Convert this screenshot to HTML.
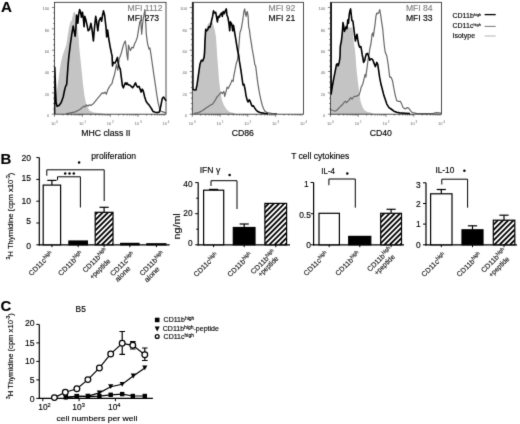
<!DOCTYPE html>
<html><head><meta charset="utf-8"><style>
html,body{margin:0;padding:0;background:#fff;}
body{width:520px;height:424px;overflow:hidden;font-family:"Liberation Sans",sans-serif;}
svg{display:block;}
</style></head><body>
<svg width="520" height="424" viewBox="0 0 520 424">
<defs><filter id="soft" x="0" y="0" width="520" height="424" filterUnits="userSpaceOnUse" color-interpolation-filters="sRGB"><feConvolveMatrix order="3" kernelMatrix="0.0114 0.084 0.0114 0.084 0.618 0.084 0.0114 0.084 0.0114" divisor="1" edgeMode="duplicate" preserveAlpha="true"/></filter></defs>
<g filter="url(#soft)">
<rect width="520" height="424" fill="#fff"/>
<text x="0.9" y="11.8" font-size="15.2" font-weight="bold" font-family="Liberation Sans, sans-serif" stroke="#000" stroke-width="0.14">A</text>
<path d="M55.5,114.0 L56.1,102.7 L56.8,91.4 L58.2,81.5 L59.7,70.1 L61.1,61.7 L62.5,56.0 L64.5,50.0 L66.3,45.1 L67.7,35.6 L69.0,27.4 L70.4,21.9 L71.8,20.5 L73.2,13.5 L74.5,11.5 L75.5,14.0 L76.5,20.0 L77.3,27.4 L78.6,38.3 L79.3,47.9 L80.1,56.0 L81.6,70.1 L83.0,84.3 L84.4,95.6 L86.5,105.5 L89.4,110.5 L93.6,112.6 L100.7,113.3 L105.0,114.0 L105.0,114.2 L55.5,114.2 Z" fill="#c4c4c4" stroke="none"/>
<path d="M66.0,113.6 L68.1,113.3 L75.2,111.9 L79.5,109.7 L82.3,107.6 L83.7,106.2 L85.1,106.9 L86.5,104.8 L87.9,106.2 L89.4,104.8 L90.8,105.5 L93.6,103.4 L96.4,99.8 L99.3,96.3 L102.1,92.8 L103.5,93.5 L104.9,92.1 L106.3,94.2 L107.7,90.0 L109.2,87.1 L110.6,85.0 L112.0,83.6 L112.8,80.0 L114.2,75.8 L115.4,70.1 L116.4,64.5 L117.1,67.3 L117.8,70.1 L118.5,64.5 L119.2,58.8 L120.3,56.1 L121.6,52.0 L123.0,46.5 L124.4,42.4 L125.3,41.0 L126.1,46.5 L127.1,56.0 L127.8,60.0 L128.5,45.1 L129.2,47.2 L130.5,50.6 L131.9,47.2 L133.3,47.9 L134.6,43.8 L136.0,41.0 L137.4,36.9 L138.7,28.7 L139.8,21.9 L140.8,20.5 L141.7,34.2 L142.8,21.9 L144.2,13.7 L144.9,9.6 L145.6,20.5 L146.3,34.2 L147.6,43.8 L149.0,49.2 L149.9,47.9 L151.0,54.7 L152.4,64.5 L153.8,74.4 L155.3,84.3 L156.7,94.2 L158.1,102.7 L159.5,108.3 L160.9,111.2 L163.0,111.9 L165.2,112.6 L166.0,113.0" fill="none" stroke="#666" stroke-width="1.2" stroke-linejoin="round"/>
<path d="M54.7,114.0 L54.8,67.3 L55.6,90.0 L56.1,102.7 L57.1,106.2 L59.0,105.5 L61.1,102.7 L63.2,97.0 L64.6,90.0 L65.6,86.4 L66.7,84.3 L67.4,74.4 L68.1,64.5 L68.9,56.0 L70.4,43.8 L71.8,34.2 L73.2,26.0 L73.8,29.4 L74.5,32.8 L75.2,36.3 L75.9,27.4 L76.6,15.0 L77.3,18.5 L77.9,23.3 L78.6,15.0 L79.6,9.6 L80.7,12.3 L81.4,17.1 L82.5,12.3 L83.4,19.2 L84.1,26.7 L84.8,16.4 L85.7,19.2 L86.8,23.9 L88.2,30.8 L89.6,29.4 L90.9,23.3 L92.0,29.4 L93.4,41.0 L94.4,28.7 L95.7,16.4 L96.7,21.9 L97.8,30.8 L99.1,20.5 L100.5,17.8 L101.6,21.2 L102.6,15.0 L103.5,10.9 L104.6,15.0 L106.0,27.4 L106.7,36.9 L107.6,30.1 L108.7,38.3 L110.1,46.5 L111.5,53.4 L112.1,56.0 L112.5,65.9 L113.5,62.4 L115.0,63.1 L116.4,60.2 L117.4,57.4 L118.2,63.1 L119.2,67.3 L120.2,68.7 L121.3,77.2 L122.4,85.7 L123.4,87.8 L124.1,85.7 L125.3,82.9 L126.3,84.3 L127.0,82.9 L128.4,85.0 L129.8,85.0 L131.2,86.4 L132.6,87.8 L134.0,85.7 L135.5,82.9 L136.6,85.7 L137.6,87.1 L139.0,86.4 L140.4,89.9 L141.1,92.1 L142.2,89.2 L143.2,90.7 L144.7,97.0 L146.1,101.3 L147.5,103.4 L148.9,104.8 L150.3,106.9 L151.7,109.0 L153.1,111.6 L155.3,112.3 L157.4,112.6 L159.5,111.9 L160.9,105.5 L162.3,98.4 L163.5,97.0 L164.5,98.4 L165.4,99.8 L166.0,101.0" fill="none" stroke="#000" stroke-width="1.6" stroke-linejoin="round"/>
<rect x="54.5" y="2.3" width="111.5" height="111.9" fill="none" stroke="#222" stroke-width="0.8"/>
<line x1="51.9" y1="114.2" x2="54.5" y2="114.2" stroke="#333" stroke-width="0.6"/>
<text x="49.2" y="116.9" font-size="4" fill="#666" text-anchor="end" font-family="Liberation Sans, sans-serif">0</text>
<line x1="53.1" y1="108.9" x2="54.5" y2="108.9" stroke="#333" stroke-width="0.6"/>
<line x1="53.1" y1="103.5" x2="54.5" y2="103.5" stroke="#333" stroke-width="0.6"/>
<line x1="53.1" y1="98.2" x2="54.5" y2="98.2" stroke="#333" stroke-width="0.6"/>
<line x1="51.9" y1="92.9" x2="54.5" y2="92.9" stroke="#333" stroke-width="0.6"/>
<text x="49.2" y="95.6" font-size="4" fill="#666" text-anchor="end" font-family="Liberation Sans, sans-serif">20</text>
<line x1="53.1" y1="87.5" x2="54.5" y2="87.5" stroke="#333" stroke-width="0.6"/>
<line x1="53.1" y1="82.2" x2="54.5" y2="82.2" stroke="#333" stroke-width="0.6"/>
<line x1="53.1" y1="76.9" x2="54.5" y2="76.9" stroke="#333" stroke-width="0.6"/>
<line x1="51.9" y1="71.5" x2="54.5" y2="71.5" stroke="#333" stroke-width="0.6"/>
<text x="49.2" y="74.2" font-size="4" fill="#666" text-anchor="end" font-family="Liberation Sans, sans-serif">40</text>
<line x1="53.1" y1="66.2" x2="54.5" y2="66.2" stroke="#333" stroke-width="0.6"/>
<line x1="53.1" y1="60.9" x2="54.5" y2="60.9" stroke="#333" stroke-width="0.6"/>
<line x1="53.1" y1="55.5" x2="54.5" y2="55.5" stroke="#333" stroke-width="0.6"/>
<line x1="51.9" y1="50.2" x2="54.5" y2="50.2" stroke="#333" stroke-width="0.6"/>
<text x="49.2" y="52.9" font-size="4" fill="#666" text-anchor="end" font-family="Liberation Sans, sans-serif">60</text>
<line x1="53.1" y1="44.8" x2="54.5" y2="44.8" stroke="#333" stroke-width="0.6"/>
<line x1="53.1" y1="39.5" x2="54.5" y2="39.5" stroke="#333" stroke-width="0.6"/>
<line x1="53.1" y1="34.2" x2="54.5" y2="34.2" stroke="#333" stroke-width="0.6"/>
<line x1="51.9" y1="28.8" x2="54.5" y2="28.8" stroke="#333" stroke-width="0.6"/>
<text x="49.2" y="31.5" font-size="4" fill="#666" text-anchor="end" font-family="Liberation Sans, sans-serif">80</text>
<line x1="53.1" y1="23.5" x2="54.5" y2="23.5" stroke="#333" stroke-width="0.6"/>
<line x1="53.1" y1="18.2" x2="54.5" y2="18.2" stroke="#333" stroke-width="0.6"/>
<line x1="53.1" y1="12.8" x2="54.5" y2="12.8" stroke="#333" stroke-width="0.6"/>
<line x1="51.9" y1="7.5" x2="54.5" y2="7.5" stroke="#333" stroke-width="0.6"/>
<text x="49.2" y="10.2" font-size="4" fill="#666" text-anchor="end" font-family="Liberation Sans, sans-serif">100</text>
<line x1="54.5" y1="114.2" x2="54.5" y2="116.8" stroke="#333" stroke-width="0.6"/>
<line x1="62.9" y1="114.2" x2="62.9" y2="115.6" stroke="#333" stroke-width="0.6"/>
<line x1="67.8" y1="114.2" x2="67.8" y2="115.6" stroke="#333" stroke-width="0.6"/>
<line x1="71.3" y1="114.2" x2="71.3" y2="115.6" stroke="#333" stroke-width="0.6"/>
<line x1="74.0" y1="114.2" x2="74.0" y2="115.6" stroke="#333" stroke-width="0.6"/>
<line x1="76.2" y1="114.2" x2="76.2" y2="115.6" stroke="#333" stroke-width="0.6"/>
<line x1="78.1" y1="114.2" x2="78.1" y2="115.6" stroke="#333" stroke-width="0.6"/>
<line x1="79.7" y1="114.2" x2="79.7" y2="115.6" stroke="#333" stroke-width="0.6"/>
<line x1="81.1" y1="114.2" x2="81.1" y2="115.6" stroke="#333" stroke-width="0.6"/>
<line x1="82.4" y1="114.2" x2="82.4" y2="116.8" stroke="#333" stroke-width="0.6"/>
<line x1="90.8" y1="114.2" x2="90.8" y2="115.6" stroke="#333" stroke-width="0.6"/>
<line x1="95.7" y1="114.2" x2="95.7" y2="115.6" stroke="#333" stroke-width="0.6"/>
<line x1="99.2" y1="114.2" x2="99.2" y2="115.6" stroke="#333" stroke-width="0.6"/>
<line x1="101.9" y1="114.2" x2="101.9" y2="115.6" stroke="#333" stroke-width="0.6"/>
<line x1="104.1" y1="114.2" x2="104.1" y2="115.6" stroke="#333" stroke-width="0.6"/>
<line x1="105.9" y1="114.2" x2="105.9" y2="115.6" stroke="#333" stroke-width="0.6"/>
<line x1="107.5" y1="114.2" x2="107.5" y2="115.6" stroke="#333" stroke-width="0.6"/>
<line x1="109.0" y1="114.2" x2="109.0" y2="115.6" stroke="#333" stroke-width="0.6"/>
<line x1="110.2" y1="114.2" x2="110.2" y2="116.8" stroke="#333" stroke-width="0.6"/>
<line x1="118.6" y1="114.2" x2="118.6" y2="115.6" stroke="#333" stroke-width="0.6"/>
<line x1="123.5" y1="114.2" x2="123.5" y2="115.6" stroke="#333" stroke-width="0.6"/>
<line x1="127.0" y1="114.2" x2="127.0" y2="115.6" stroke="#333" stroke-width="0.6"/>
<line x1="129.7" y1="114.2" x2="129.7" y2="115.6" stroke="#333" stroke-width="0.6"/>
<line x1="131.9" y1="114.2" x2="131.9" y2="115.6" stroke="#333" stroke-width="0.6"/>
<line x1="133.8" y1="114.2" x2="133.8" y2="115.6" stroke="#333" stroke-width="0.6"/>
<line x1="135.4" y1="114.2" x2="135.4" y2="115.6" stroke="#333" stroke-width="0.6"/>
<line x1="136.8" y1="114.2" x2="136.8" y2="115.6" stroke="#333" stroke-width="0.6"/>
<line x1="138.1" y1="114.2" x2="138.1" y2="116.8" stroke="#333" stroke-width="0.6"/>
<line x1="146.5" y1="114.2" x2="146.5" y2="115.6" stroke="#333" stroke-width="0.6"/>
<line x1="151.4" y1="114.2" x2="151.4" y2="115.6" stroke="#333" stroke-width="0.6"/>
<line x1="154.9" y1="114.2" x2="154.9" y2="115.6" stroke="#333" stroke-width="0.6"/>
<line x1="157.6" y1="114.2" x2="157.6" y2="115.6" stroke="#333" stroke-width="0.6"/>
<line x1="159.8" y1="114.2" x2="159.8" y2="115.6" stroke="#333" stroke-width="0.6"/>
<line x1="161.7" y1="114.2" x2="161.7" y2="115.6" stroke="#333" stroke-width="0.6"/>
<line x1="163.3" y1="114.2" x2="163.3" y2="115.6" stroke="#333" stroke-width="0.6"/>
<line x1="164.7" y1="114.2" x2="164.7" y2="115.6" stroke="#333" stroke-width="0.6"/>
<text x="54.5" y="124.7" font-size="4" fill="#666" text-anchor="middle" font-family="Liberation Sans, sans-serif">10<tspan font-size="3" dy="-1.5"> 0</tspan></text>
<text x="82.4" y="124.7" font-size="4" fill="#666" text-anchor="middle" font-family="Liberation Sans, sans-serif">10<tspan font-size="3" dy="-1.5"> 1</tspan></text>
<text x="110.2" y="124.7" font-size="4" fill="#666" text-anchor="middle" font-family="Liberation Sans, sans-serif">10<tspan font-size="3" dy="-1.5"> 2</tspan></text>
<text x="138.1" y="124.7" font-size="4" fill="#666" text-anchor="middle" font-family="Liberation Sans, sans-serif">10<tspan font-size="3" dy="-1.5"> 3</tspan></text>
<text x="166.0" y="124.7" font-size="4" fill="#666" text-anchor="middle" font-family="Liberation Sans, sans-serif">10<tspan font-size="3" dy="-1.5"> 4</tspan></text>
<text x="105.9" y="135.6" font-size="8.7" text-anchor="middle" font-family="Liberation Sans, sans-serif" stroke="#000" stroke-width="0.14">MHC class II</text>
<text x="127.6" y="10.9" font-size="8.6" fill="#808080" font-family="Liberation Sans, sans-serif" stroke="#808080" stroke-width="0.14">MFI 1112</text>
<text x="127.6" y="21.1" font-size="8.6" fill="#000" font-family="Liberation Sans, sans-serif" stroke="#000" stroke-width="0.14">MFI 273</text>
<path d="M192.6,114.0 L192.6,90.5 L195.9,91.0 L197.1,85.0 L198.5,75.0 L199.9,65.0 L201.3,61.0 L203.5,58.0 L204.4,41.0 L205.7,30.0 L207.1,26.0 L208.5,23.3 L210.5,22.5 L212.5,22.0 L214.6,29.4 L216.0,36.9 L216.7,47.9 L217.2,56.0 L218.3,70.1 L219.0,80.0 L220.4,91.4 L221.8,99.8 L224.0,105.5 L226.8,109.7 L229.6,111.9 L232.4,112.6 L236.0,114.0 L236.0,114.2 L192.6,114.2 Z" fill="#c4c4c4" stroke="none"/>
<path d="M194.2,113.3 L198.5,112.6 L202.7,110.5 L205.6,108.3 L207.7,106.9 L209.8,105.5 L211.2,104.8 L212.6,104.1 L214.0,102.0 L215.5,99.8 L216.9,97.0 L218.3,95.6 L219.7,94.2 L221.1,92.1 L222.5,93.5 L223.9,91.4 L224.7,96.3 L226.1,91.4 L227.1,87.1 L228.2,88.5 L229.6,85.7 L231.0,82.9 L232.0,80.0 L233.1,81.5 L233.8,75.8 L235.0,70.1 L236.0,64.5 L237.4,60.2 L238.6,50.0 L239.9,32.8 L241.3,28.7 L242.7,20.5 L243.4,15.0 L244.0,10.9 L244.7,8.9 L245.4,13.7 L246.1,16.4 L246.8,12.3 L247.4,11.6 L248.1,16.4 L248.7,27.4 L249.4,29.4 L250.1,35.6 L251.2,42.4 L252.2,49.2 L253.5,56.1 L254.8,64.5 L255.6,65.9 L256.2,70.1 L257.0,77.2 L258.0,84.3 L259.4,92.8 L260.9,99.8 L262.3,105.5 L263.7,109.0 L265.1,111.4 L267.2,112.6 L271.5,113.3 L277.1,113.7" fill="none" stroke="#666" stroke-width="1.2" stroke-linejoin="round"/>
<path d="M192.9,2.5 L192.9,89.4 L193.1,89.2 L194.2,90.0 L195.9,90.0 L197.1,84.3 L198.5,74.4 L199.9,64.5 L201.3,60.2 L202.7,61.0 L204.1,57.4 L204.6,52.0 L205.0,41.0 L205.7,29.4 L206.7,30.8 L207.8,29.4 L208.9,26.7 L209.8,27.4 L210.8,24.6 L211.6,20.5 L212.6,16.4 L213.5,10.9 L214.6,13.0 L215.7,12.3 L216.7,17.8 L217.4,21.9 L218.3,16.4 L219.4,17.1 L220.4,14.4 L221.5,13.0 L222.3,16.4 L223.2,11.6 L224.2,13.7 L225.3,10.9 L226.3,8.9 L226.9,15.0 L228.0,17.8 L229.0,23.9 L229.7,30.8 L230.4,21.9 L231.7,23.9 L232.7,30.8 L233.5,25.3 L234.5,31.5 L235.4,36.9 L236.5,43.8 L237.6,50.6 L238.6,54.7 L239.5,61.7 L240.9,70.1 L242.3,80.0 L243.0,85.0 L244.0,84.3 L245.2,90.0 L246.0,95.6 L247.1,99.8 L248.1,102.0 L249.1,99.8 L250.2,101.3 L251.4,104.8 L252.4,106.2 L253.4,105.8 L254.5,107.6 L255.9,109.7 L257.3,111.2 L259.4,112.3 L261.6,112.9 L264.4,113.3 L268.0,113.6" fill="none" stroke="#000" stroke-width="1.6" stroke-linejoin="round"/>
<rect x="192.3" y="2.3" width="111.1" height="111.9" fill="none" stroke="#222" stroke-width="0.8"/>
<line x1="189.7" y1="114.2" x2="192.3" y2="114.2" stroke="#333" stroke-width="0.6"/>
<text x="187.0" y="116.9" font-size="4" fill="#666" text-anchor="end" font-family="Liberation Sans, sans-serif">0</text>
<line x1="190.9" y1="108.9" x2="192.3" y2="108.9" stroke="#333" stroke-width="0.6"/>
<line x1="190.9" y1="103.5" x2="192.3" y2="103.5" stroke="#333" stroke-width="0.6"/>
<line x1="190.9" y1="98.2" x2="192.3" y2="98.2" stroke="#333" stroke-width="0.6"/>
<line x1="189.7" y1="92.9" x2="192.3" y2="92.9" stroke="#333" stroke-width="0.6"/>
<text x="187.0" y="95.6" font-size="4" fill="#666" text-anchor="end" font-family="Liberation Sans, sans-serif">20</text>
<line x1="190.9" y1="87.5" x2="192.3" y2="87.5" stroke="#333" stroke-width="0.6"/>
<line x1="190.9" y1="82.2" x2="192.3" y2="82.2" stroke="#333" stroke-width="0.6"/>
<line x1="190.9" y1="76.9" x2="192.3" y2="76.9" stroke="#333" stroke-width="0.6"/>
<line x1="189.7" y1="71.5" x2="192.3" y2="71.5" stroke="#333" stroke-width="0.6"/>
<text x="187.0" y="74.2" font-size="4" fill="#666" text-anchor="end" font-family="Liberation Sans, sans-serif">40</text>
<line x1="190.9" y1="66.2" x2="192.3" y2="66.2" stroke="#333" stroke-width="0.6"/>
<line x1="190.9" y1="60.9" x2="192.3" y2="60.9" stroke="#333" stroke-width="0.6"/>
<line x1="190.9" y1="55.5" x2="192.3" y2="55.5" stroke="#333" stroke-width="0.6"/>
<line x1="189.7" y1="50.2" x2="192.3" y2="50.2" stroke="#333" stroke-width="0.6"/>
<text x="187.0" y="52.9" font-size="4" fill="#666" text-anchor="end" font-family="Liberation Sans, sans-serif">60</text>
<line x1="190.9" y1="44.8" x2="192.3" y2="44.8" stroke="#333" stroke-width="0.6"/>
<line x1="190.9" y1="39.5" x2="192.3" y2="39.5" stroke="#333" stroke-width="0.6"/>
<line x1="190.9" y1="34.2" x2="192.3" y2="34.2" stroke="#333" stroke-width="0.6"/>
<line x1="189.7" y1="28.8" x2="192.3" y2="28.8" stroke="#333" stroke-width="0.6"/>
<text x="187.0" y="31.5" font-size="4" fill="#666" text-anchor="end" font-family="Liberation Sans, sans-serif">80</text>
<line x1="190.9" y1="23.5" x2="192.3" y2="23.5" stroke="#333" stroke-width="0.6"/>
<line x1="190.9" y1="18.2" x2="192.3" y2="18.2" stroke="#333" stroke-width="0.6"/>
<line x1="190.9" y1="12.8" x2="192.3" y2="12.8" stroke="#333" stroke-width="0.6"/>
<line x1="189.7" y1="7.5" x2="192.3" y2="7.5" stroke="#333" stroke-width="0.6"/>
<text x="187.0" y="10.2" font-size="4" fill="#666" text-anchor="end" font-family="Liberation Sans, sans-serif">100</text>
<line x1="192.3" y1="114.2" x2="192.3" y2="116.8" stroke="#333" stroke-width="0.6"/>
<line x1="200.7" y1="114.2" x2="200.7" y2="115.6" stroke="#333" stroke-width="0.6"/>
<line x1="205.6" y1="114.2" x2="205.6" y2="115.6" stroke="#333" stroke-width="0.6"/>
<line x1="209.0" y1="114.2" x2="209.0" y2="115.6" stroke="#333" stroke-width="0.6"/>
<line x1="211.7" y1="114.2" x2="211.7" y2="115.6" stroke="#333" stroke-width="0.6"/>
<line x1="213.9" y1="114.2" x2="213.9" y2="115.6" stroke="#333" stroke-width="0.6"/>
<line x1="215.8" y1="114.2" x2="215.8" y2="115.6" stroke="#333" stroke-width="0.6"/>
<line x1="217.4" y1="114.2" x2="217.4" y2="115.6" stroke="#333" stroke-width="0.6"/>
<line x1="218.8" y1="114.2" x2="218.8" y2="115.6" stroke="#333" stroke-width="0.6"/>
<line x1="220.1" y1="114.2" x2="220.1" y2="116.8" stroke="#333" stroke-width="0.6"/>
<line x1="228.4" y1="114.2" x2="228.4" y2="115.6" stroke="#333" stroke-width="0.6"/>
<line x1="233.3" y1="114.2" x2="233.3" y2="115.6" stroke="#333" stroke-width="0.6"/>
<line x1="236.8" y1="114.2" x2="236.8" y2="115.6" stroke="#333" stroke-width="0.6"/>
<line x1="239.5" y1="114.2" x2="239.5" y2="115.6" stroke="#333" stroke-width="0.6"/>
<line x1="241.7" y1="114.2" x2="241.7" y2="115.6" stroke="#333" stroke-width="0.6"/>
<line x1="243.5" y1="114.2" x2="243.5" y2="115.6" stroke="#333" stroke-width="0.6"/>
<line x1="245.2" y1="114.2" x2="245.2" y2="115.6" stroke="#333" stroke-width="0.6"/>
<line x1="246.6" y1="114.2" x2="246.6" y2="115.6" stroke="#333" stroke-width="0.6"/>
<line x1="247.8" y1="114.2" x2="247.8" y2="116.8" stroke="#333" stroke-width="0.6"/>
<line x1="256.2" y1="114.2" x2="256.2" y2="115.6" stroke="#333" stroke-width="0.6"/>
<line x1="261.1" y1="114.2" x2="261.1" y2="115.6" stroke="#333" stroke-width="0.6"/>
<line x1="264.6" y1="114.2" x2="264.6" y2="115.6" stroke="#333" stroke-width="0.6"/>
<line x1="267.3" y1="114.2" x2="267.3" y2="115.6" stroke="#333" stroke-width="0.6"/>
<line x1="269.5" y1="114.2" x2="269.5" y2="115.6" stroke="#333" stroke-width="0.6"/>
<line x1="271.3" y1="114.2" x2="271.3" y2="115.6" stroke="#333" stroke-width="0.6"/>
<line x1="272.9" y1="114.2" x2="272.9" y2="115.6" stroke="#333" stroke-width="0.6"/>
<line x1="274.4" y1="114.2" x2="274.4" y2="115.6" stroke="#333" stroke-width="0.6"/>
<line x1="275.6" y1="114.2" x2="275.6" y2="116.8" stroke="#333" stroke-width="0.6"/>
<line x1="284.0" y1="114.2" x2="284.0" y2="115.6" stroke="#333" stroke-width="0.6"/>
<line x1="288.9" y1="114.2" x2="288.9" y2="115.6" stroke="#333" stroke-width="0.6"/>
<line x1="292.3" y1="114.2" x2="292.3" y2="115.6" stroke="#333" stroke-width="0.6"/>
<line x1="295.0" y1="114.2" x2="295.0" y2="115.6" stroke="#333" stroke-width="0.6"/>
<line x1="297.2" y1="114.2" x2="297.2" y2="115.6" stroke="#333" stroke-width="0.6"/>
<line x1="299.1" y1="114.2" x2="299.1" y2="115.6" stroke="#333" stroke-width="0.6"/>
<line x1="300.7" y1="114.2" x2="300.7" y2="115.6" stroke="#333" stroke-width="0.6"/>
<line x1="302.1" y1="114.2" x2="302.1" y2="115.6" stroke="#333" stroke-width="0.6"/>
<text x="192.3" y="124.7" font-size="4" fill="#666" text-anchor="middle" font-family="Liberation Sans, sans-serif">10<tspan font-size="3" dy="-1.5"> 0</tspan></text>
<text x="220.1" y="124.7" font-size="4" fill="#666" text-anchor="middle" font-family="Liberation Sans, sans-serif">10<tspan font-size="3" dy="-1.5"> 1</tspan></text>
<text x="247.8" y="124.7" font-size="4" fill="#666" text-anchor="middle" font-family="Liberation Sans, sans-serif">10<tspan font-size="3" dy="-1.5"> 2</tspan></text>
<text x="275.6" y="124.7" font-size="4" fill="#666" text-anchor="middle" font-family="Liberation Sans, sans-serif">10<tspan font-size="3" dy="-1.5"> 3</tspan></text>
<text x="303.4" y="124.7" font-size="4" fill="#666" text-anchor="middle" font-family="Liberation Sans, sans-serif">10<tspan font-size="3" dy="-1.5"> 4</tspan></text>
<text x="242.8" y="135.6" font-size="8.7" text-anchor="middle" font-family="Liberation Sans, sans-serif" stroke="#000" stroke-width="0.14">CD86</text>
<text x="268.5" y="10.9" font-size="8.6" fill="#808080" font-family="Liberation Sans, sans-serif" stroke="#808080" stroke-width="0.14">MFI 92</text>
<text x="268.5" y="21.1" font-size="8.6" fill="#000" font-family="Liberation Sans, sans-serif" stroke="#000" stroke-width="0.14">MFI 21</text>
<path d="M330.8,114.0 L330.8,95.0 L332.2,88.0 L333.7,79.5 L335.1,72.5 L336.5,65.5 L338.2,66.5 L339.3,62.5 L340.5,50.0 L341.4,42.0 L342.4,33.0 L343.5,30.0 L345.0,30.0 L347.0,27.0 L349.0,27.4 L351.0,27.4 L352.6,27.4 L353.3,38.3 L354.7,47.9 L355.6,56.0 L356.3,67.3 L357.7,80.0 L359.1,91.4 L360.5,101.3 L362.7,107.6 L364.8,110.5 L367.6,111.9 L370.4,112.6 L374.0,114.0 L374.0,114.2 L330.8,114.2 Z" fill="#c4c4c4" stroke="none"/>
<path d="M330.8,109.7 L333.0,110.5 L335.1,111.2 L336.5,110.5 L338.6,108.3 L340.7,106.2 L342.9,104.1 L344.3,102.0 L345.7,101.3 L346.4,102.7 L347.8,101.3 L349.2,99.8 L350.6,97.7 L352.0,99.1 L353.5,97.0 L354.9,96.3 L356.3,96.3 L357.7,95.6 L359.1,94.9 L360.2,91.4 L361.2,87.1 L362.7,84.3 L364.1,78.6 L365.1,74.4 L365.9,77.2 L366.5,71.6 L367.3,65.9 L368.0,60.2 L368.7,56.0 L369.3,53.0 L369.7,49.2 L370.7,45.1 L371.5,39.7 L372.0,34.2 L372.9,32.8 L373.4,36.3 L374.2,30.1 L375.2,23.3 L375.9,16.4 L376.8,13.0 L377.9,13.7 L378.9,12.3 L379.7,9.6 L380.7,15.0 L381.6,21.9 L382.7,28.7 L383.7,39.7 L384.4,46.5 L385.2,52.0 L386.8,56.0 L388.2,64.5 L389.7,77.2 L391.1,77.2 L392.5,80.8 L393.9,88.5 L395.3,95.6 L396.7,100.6 L398.1,101.3 L400.3,101.3 L401.7,104.1 L403.1,107.6 L405.2,109.0 L407.3,107.6 L408.8,108.3 L410.9,111.2 L412.3,112.6 L416.5,113.3 L425.0,113.6 L433.5,113.3 L436.3,112.6 L439.2,112.9 L441.0,113.2" fill="none" stroke="#666" stroke-width="1.2" stroke-linejoin="round"/>
<path d="M331.1,2.5 L331.1,94.2 L331.1,94.2 L332.2,87.1 L333.7,78.6 L335.1,71.6 L336.5,64.5 L337.2,63.8 L338.2,65.9 L339.3,61.7 L340.0,57.4 L340.3,46.5 L341.4,41.0 L342.4,31.5 L343.0,22.6 L343.7,26.0 L344.4,31.5 L345.1,29.4 L346.1,26.7 L346.9,28.7 L347.8,19.8 L348.5,23.3 L349.2,15.0 L349.9,10.9 L350.6,8.9 L351.3,15.0 L351.9,20.5 L352.9,21.2 L353.7,27.4 L354.7,35.6 L355.4,41.0 L356.3,36.9 L357.0,34.2 L357.8,39.7 L358.8,45.1 L359.7,47.2 L360.8,46.5 L361.5,49.9 L362.2,54.7 L362.9,58.0 L363.6,62.4 L364.8,60.2 L365.5,56.7 L366.3,54.0 L367.7,53.4 L369.0,57.4 L369.7,60.2 L371.1,58.8 L372.6,59.5 L374.0,63.1 L375.4,66.6 L376.8,62.4 L377.8,64.5 L378.6,70.1 L379.6,77.2 L381.0,84.3 L382.5,90.0 L383.9,95.6 L385.4,99.8 L386.8,104.1 L389.0,107.6 L391.1,109.0 L393.9,111.2 L396.7,112.3 L399.6,112.9 L405.2,113.3 L410.0,113.6" fill="none" stroke="#000" stroke-width="1.6" stroke-linejoin="round"/>
<rect x="330.5" y="2.3" width="111.0" height="111.9" fill="none" stroke="#222" stroke-width="0.8"/>
<line x1="327.9" y1="114.2" x2="330.5" y2="114.2" stroke="#333" stroke-width="0.6"/>
<text x="325.2" y="116.9" font-size="4" fill="#666" text-anchor="end" font-family="Liberation Sans, sans-serif">0</text>
<line x1="329.1" y1="108.9" x2="330.5" y2="108.9" stroke="#333" stroke-width="0.6"/>
<line x1="329.1" y1="103.5" x2="330.5" y2="103.5" stroke="#333" stroke-width="0.6"/>
<line x1="329.1" y1="98.2" x2="330.5" y2="98.2" stroke="#333" stroke-width="0.6"/>
<line x1="327.9" y1="92.9" x2="330.5" y2="92.9" stroke="#333" stroke-width="0.6"/>
<text x="325.2" y="95.6" font-size="4" fill="#666" text-anchor="end" font-family="Liberation Sans, sans-serif">20</text>
<line x1="329.1" y1="87.5" x2="330.5" y2="87.5" stroke="#333" stroke-width="0.6"/>
<line x1="329.1" y1="82.2" x2="330.5" y2="82.2" stroke="#333" stroke-width="0.6"/>
<line x1="329.1" y1="76.9" x2="330.5" y2="76.9" stroke="#333" stroke-width="0.6"/>
<line x1="327.9" y1="71.5" x2="330.5" y2="71.5" stroke="#333" stroke-width="0.6"/>
<text x="325.2" y="74.2" font-size="4" fill="#666" text-anchor="end" font-family="Liberation Sans, sans-serif">40</text>
<line x1="329.1" y1="66.2" x2="330.5" y2="66.2" stroke="#333" stroke-width="0.6"/>
<line x1="329.1" y1="60.9" x2="330.5" y2="60.9" stroke="#333" stroke-width="0.6"/>
<line x1="329.1" y1="55.5" x2="330.5" y2="55.5" stroke="#333" stroke-width="0.6"/>
<line x1="327.9" y1="50.2" x2="330.5" y2="50.2" stroke="#333" stroke-width="0.6"/>
<text x="325.2" y="52.9" font-size="4" fill="#666" text-anchor="end" font-family="Liberation Sans, sans-serif">60</text>
<line x1="329.1" y1="44.8" x2="330.5" y2="44.8" stroke="#333" stroke-width="0.6"/>
<line x1="329.1" y1="39.5" x2="330.5" y2="39.5" stroke="#333" stroke-width="0.6"/>
<line x1="329.1" y1="34.2" x2="330.5" y2="34.2" stroke="#333" stroke-width="0.6"/>
<line x1="327.9" y1="28.8" x2="330.5" y2="28.8" stroke="#333" stroke-width="0.6"/>
<text x="325.2" y="31.5" font-size="4" fill="#666" text-anchor="end" font-family="Liberation Sans, sans-serif">80</text>
<line x1="329.1" y1="23.5" x2="330.5" y2="23.5" stroke="#333" stroke-width="0.6"/>
<line x1="329.1" y1="18.2" x2="330.5" y2="18.2" stroke="#333" stroke-width="0.6"/>
<line x1="329.1" y1="12.8" x2="330.5" y2="12.8" stroke="#333" stroke-width="0.6"/>
<line x1="327.9" y1="7.5" x2="330.5" y2="7.5" stroke="#333" stroke-width="0.6"/>
<text x="325.2" y="10.2" font-size="4" fill="#666" text-anchor="end" font-family="Liberation Sans, sans-serif">100</text>
<line x1="330.5" y1="114.2" x2="330.5" y2="116.8" stroke="#333" stroke-width="0.6"/>
<line x1="338.9" y1="114.2" x2="338.9" y2="115.6" stroke="#333" stroke-width="0.6"/>
<line x1="343.7" y1="114.2" x2="343.7" y2="115.6" stroke="#333" stroke-width="0.6"/>
<line x1="347.2" y1="114.2" x2="347.2" y2="115.6" stroke="#333" stroke-width="0.6"/>
<line x1="349.9" y1="114.2" x2="349.9" y2="115.6" stroke="#333" stroke-width="0.6"/>
<line x1="352.1" y1="114.2" x2="352.1" y2="115.6" stroke="#333" stroke-width="0.6"/>
<line x1="354.0" y1="114.2" x2="354.0" y2="115.6" stroke="#333" stroke-width="0.6"/>
<line x1="355.6" y1="114.2" x2="355.6" y2="115.6" stroke="#333" stroke-width="0.6"/>
<line x1="357.0" y1="114.2" x2="357.0" y2="115.6" stroke="#333" stroke-width="0.6"/>
<line x1="358.2" y1="114.2" x2="358.2" y2="116.8" stroke="#333" stroke-width="0.6"/>
<line x1="366.6" y1="114.2" x2="366.6" y2="115.6" stroke="#333" stroke-width="0.6"/>
<line x1="371.5" y1="114.2" x2="371.5" y2="115.6" stroke="#333" stroke-width="0.6"/>
<line x1="375.0" y1="114.2" x2="375.0" y2="115.6" stroke="#333" stroke-width="0.6"/>
<line x1="377.6" y1="114.2" x2="377.6" y2="115.6" stroke="#333" stroke-width="0.6"/>
<line x1="379.8" y1="114.2" x2="379.8" y2="115.6" stroke="#333" stroke-width="0.6"/>
<line x1="381.7" y1="114.2" x2="381.7" y2="115.6" stroke="#333" stroke-width="0.6"/>
<line x1="383.3" y1="114.2" x2="383.3" y2="115.6" stroke="#333" stroke-width="0.6"/>
<line x1="384.7" y1="114.2" x2="384.7" y2="115.6" stroke="#333" stroke-width="0.6"/>
<line x1="386.0" y1="114.2" x2="386.0" y2="116.8" stroke="#333" stroke-width="0.6"/>
<line x1="394.4" y1="114.2" x2="394.4" y2="115.6" stroke="#333" stroke-width="0.6"/>
<line x1="399.2" y1="114.2" x2="399.2" y2="115.6" stroke="#333" stroke-width="0.6"/>
<line x1="402.7" y1="114.2" x2="402.7" y2="115.6" stroke="#333" stroke-width="0.6"/>
<line x1="405.4" y1="114.2" x2="405.4" y2="115.6" stroke="#333" stroke-width="0.6"/>
<line x1="407.6" y1="114.2" x2="407.6" y2="115.6" stroke="#333" stroke-width="0.6"/>
<line x1="409.5" y1="114.2" x2="409.5" y2="115.6" stroke="#333" stroke-width="0.6"/>
<line x1="411.1" y1="114.2" x2="411.1" y2="115.6" stroke="#333" stroke-width="0.6"/>
<line x1="412.5" y1="114.2" x2="412.5" y2="115.6" stroke="#333" stroke-width="0.6"/>
<line x1="413.8" y1="114.2" x2="413.8" y2="116.8" stroke="#333" stroke-width="0.6"/>
<line x1="422.1" y1="114.2" x2="422.1" y2="115.6" stroke="#333" stroke-width="0.6"/>
<line x1="427.0" y1="114.2" x2="427.0" y2="115.6" stroke="#333" stroke-width="0.6"/>
<line x1="430.5" y1="114.2" x2="430.5" y2="115.6" stroke="#333" stroke-width="0.6"/>
<line x1="433.1" y1="114.2" x2="433.1" y2="115.6" stroke="#333" stroke-width="0.6"/>
<line x1="435.3" y1="114.2" x2="435.3" y2="115.6" stroke="#333" stroke-width="0.6"/>
<line x1="437.2" y1="114.2" x2="437.2" y2="115.6" stroke="#333" stroke-width="0.6"/>
<line x1="438.8" y1="114.2" x2="438.8" y2="115.6" stroke="#333" stroke-width="0.6"/>
<line x1="440.2" y1="114.2" x2="440.2" y2="115.6" stroke="#333" stroke-width="0.6"/>
<text x="330.5" y="124.7" font-size="4" fill="#666" text-anchor="middle" font-family="Liberation Sans, sans-serif">10<tspan font-size="3" dy="-1.5"> 0</tspan></text>
<text x="358.2" y="124.7" font-size="4" fill="#666" text-anchor="middle" font-family="Liberation Sans, sans-serif">10<tspan font-size="3" dy="-1.5"> 1</tspan></text>
<text x="386.0" y="124.7" font-size="4" fill="#666" text-anchor="middle" font-family="Liberation Sans, sans-serif">10<tspan font-size="3" dy="-1.5"> 2</tspan></text>
<text x="413.8" y="124.7" font-size="4" fill="#666" text-anchor="middle" font-family="Liberation Sans, sans-serif">10<tspan font-size="3" dy="-1.5"> 3</tspan></text>
<text x="441.5" y="124.7" font-size="4" fill="#666" text-anchor="middle" font-family="Liberation Sans, sans-serif">10<tspan font-size="3" dy="-1.5"> 4</tspan></text>
<text x="380.8" y="135.6" font-size="8.7" text-anchor="middle" font-family="Liberation Sans, sans-serif" stroke="#000" stroke-width="0.14">CD40</text>
<text x="405.9" y="10.9" font-size="8.6" fill="#808080" font-family="Liberation Sans, sans-serif" stroke="#808080" stroke-width="0.14">MFI 84</text>
<text x="405.9" y="21.1" font-size="8.6" fill="#000" font-family="Liberation Sans, sans-serif" stroke="#000" stroke-width="0.14">MFI 33</text>
<text x="452.5" y="18.2" font-size="7" font-family="Liberation Sans, sans-serif" stroke="#000" stroke-width="0.14">CD11b<tspan font-size="4" dy="-2.6">high</tspan></text>
<line x1="484.6" y1="14.6" x2="495.7" y2="14.6" stroke="#000" stroke-width="1.3"/>
<text x="452.5" y="28.3" font-size="7" font-family="Liberation Sans, sans-serif" stroke="#000" stroke-width="0.14">CD11c<tspan font-size="4" dy="-2.6">high</tspan></text>
<line x1="484.6" y1="26.4" x2="495.7" y2="26.4" stroke="#666" stroke-width="0.9"/>
<text x="452.5" y="37.7" font-size="7" font-family="Liberation Sans, sans-serif" stroke="#000" stroke-width="0.14">Isotype</text>
<line x1="484.6" y1="36.0" x2="495.7" y2="36.0" stroke="#aaa" stroke-width="0.9"/>
<defs><pattern id="hatch" patternUnits="userSpaceOnUse" width="3.7" height="3.7" patternTransform="rotate(45)"><rect width="3.7" height="3.7" fill="#fff"/><line x1="0.9" y1="0" x2="0.9" y2="3.7" stroke="#000" stroke-width="1.8"/></pattern></defs>
<text x="0.40" y="163.90" font-size="15.00" font-weight="bold" font-family="Liberation Sans, sans-serif"  stroke="#000" stroke-width="0.14">B</text>
<line x1="39.3" y1="157.6" x2="39.3" y2="245.4" stroke="#000" stroke-width="1.2"/>
<line x1="38.7" y1="244.8" x2="169.7" y2="244.8" stroke="#000" stroke-width="1.2"/>
<line x1="36.3" y1="244.8" x2="39.3" y2="244.8" stroke="#000" stroke-width="1.0"/>
<text x="31.00" y="249.40" font-size="8.60" text-anchor="end" font-family="Liberation Sans, sans-serif"  stroke="#000" stroke-width="0.14">0</text>
<line x1="36.3" y1="223.0" x2="39.3" y2="223.0" stroke="#000" stroke-width="1.0"/>
<text x="31.00" y="223.50" font-size="8.60" text-anchor="end" font-family="Liberation Sans, sans-serif"  stroke="#000" stroke-width="0.14">5</text>
<line x1="36.3" y1="201.2" x2="39.3" y2="201.2" stroke="#000" stroke-width="1.0"/>
<text x="31.00" y="204.20" font-size="8.60" text-anchor="end" font-family="Liberation Sans, sans-serif"  stroke="#000" stroke-width="0.14">10</text>
<line x1="36.3" y1="179.4" x2="39.3" y2="179.4" stroke="#000" stroke-width="1.0"/>
<text x="31.00" y="181.20" font-size="8.60" text-anchor="end" font-family="Liberation Sans, sans-serif"  stroke="#000" stroke-width="0.14">15</text>
<line x1="36.3" y1="157.6" x2="39.3" y2="157.6" stroke="#000" stroke-width="1.0"/>
<text x="31.00" y="161.10" font-size="8.60" text-anchor="end" font-family="Liberation Sans, sans-serif"  stroke="#000" stroke-width="0.14">20</text>
<rect x="43.2" y="185.1" width="17.4" height="59.7" fill="#fff" stroke="#000" stroke-width="1.2"/>
<line x1="51.9" y1="244.8" x2="51.9" y2="247.2" stroke="#000" stroke-width="1.0"/>
<line x1="51.9" y1="185.1" x2="51.9" y2="180.4" stroke="#000" stroke-width="1.2"/>
<line x1="47.3" y1="180.4" x2="56.5" y2="180.4" stroke="#000" stroke-width="1.2"/>
<rect x="68.9" y="241.0" width="18.5" height="3.8" fill="#000" stroke="#000" stroke-width="1.2"/>
<line x1="78.2" y1="244.8" x2="78.2" y2="247.2" stroke="#000" stroke-width="1.0"/>
<rect x="95.2" y="212.3" width="17.8" height="32.5" fill="url(#hatch)" stroke="#000" stroke-width="1.2"/>
<line x1="104.1" y1="244.8" x2="104.1" y2="247.2" stroke="#000" stroke-width="1.0"/>
<line x1="104.1" y1="212.3" x2="104.1" y2="207.3" stroke="#000" stroke-width="1.2"/>
<line x1="99.5" y1="207.3" x2="108.7" y2="207.3" stroke="#000" stroke-width="1.2"/>
<rect x="120.7" y="243.4" width="18.3" height="1.4" fill="#000" stroke="#000" stroke-width="1.2"/>
<line x1="129.8" y1="244.8" x2="129.8" y2="247.2" stroke="#000" stroke-width="1.0"/>
<rect x="146.8" y="243.8" width="19.1" height="1.0" fill="#000" stroke="#000" stroke-width="1.2"/>
<line x1="156.4" y1="244.8" x2="156.4" y2="247.2" stroke="#000" stroke-width="1.0"/>
<path d="M46.8,175.7 L46.8,169.8 L104.2,169.8 L104.2,201.0" fill="none" stroke="#000" stroke-width="1.0"/>
<path d="M57.5,180.2 L57.5,176.8 L80.4,176.8 L80.4,207.5" fill="none" stroke="#000" stroke-width="1.0"/>
<circle cx="79.10" cy="162.60" r="1.25" fill="#000"/>
<circle cx="65.20" cy="173.50" r="1.25" fill="#000"/>
<circle cx="69.50" cy="173.50" r="1.25" fill="#000"/>
<circle cx="73.80" cy="173.50" r="1.25" fill="#000"/>
<text x="91.30" y="158.60" font-size="8.40" textLength="44.6" lengthAdjust="spacingAndGlyphs" font-family="Liberation Sans, sans-serif"  stroke="#000" stroke-width="0.14">proliferation</text>
<g transform="translate(13.0,259.5) rotate(-90) scale(1.120,1)"><text x="0" y="0" font-size="6.90" font-family="Liberation Sans, sans-serif" stroke="#000" stroke-width="0.14"><tspan font-size="4.49" dy="-2.6">3</tspan><tspan dy="2.6">H Thymidine (cpm x10</tspan><tspan font-size="4.49" dy="-2.6">-3</tspan><tspan dy="2.6">)</tspan></text></g>
<g transform="translate(31.50,276.20) rotate(-45)"><text x="0" y="0" font-size="7.20" fill="#111" font-family="Liberation Sans, sans-serif" stroke="#111" stroke-width="0.14">CD11c<tspan font-size="5.04" dy="-2.4">high</tspan></text></g>
<g transform="translate(61.10,276.20) rotate(-45)"><text x="0" y="0" font-size="7.20" fill="#111" font-family="Liberation Sans, sans-serif" stroke="#111" stroke-width="0.14">CD11b<tspan font-size="5.04" dy="-2.4">high</tspan></text></g>
<g transform="translate(85.40,273.10) rotate(-45)"><text x="0" y="0" font-size="7.20" fill="#111" font-family="Liberation Sans, sans-serif" stroke="#111" stroke-width="0.14">CD11b<tspan font-size="5.04" dy="-2.4">high</tspan></text></g>
<g transform="translate(110.80,261.60) rotate(-45)"><text x="0" y="0" font-size="7.20" text-anchor="end" textLength="25.8" lengthAdjust="spacingAndGlyphs" fill="#111" font-family="Liberation Sans, sans-serif" stroke="#111" stroke-width="0.14">+peptide</text></g>
<g transform="translate(113.10,276.60) rotate(-45)"><text x="0" y="0" font-size="7.20" fill="#111" font-family="Liberation Sans, sans-serif" stroke="#111" stroke-width="0.14">CD11c<tspan font-size="5.04" dy="-2.4">high</tspan></text></g>
<g transform="translate(130.90,269.10) rotate(-45)"><text x="0" y="0" font-size="7.20" text-anchor="end" textLength="18.6" lengthAdjust="spacingAndGlyphs" fill="#111" font-family="Liberation Sans, sans-serif" stroke="#111" stroke-width="0.14">alone</text></g>
<g transform="translate(142.40,276.20) rotate(-45)"><text x="0" y="0" font-size="7.20" fill="#111" font-family="Liberation Sans, sans-serif" stroke="#111" stroke-width="0.14">CD11b<tspan font-size="5.04" dy="-2.4">high</tspan></text></g>
<g transform="translate(160.10,269.60) rotate(-45)"><text x="0" y="0" font-size="7.20" text-anchor="end" textLength="18.6" lengthAdjust="spacingAndGlyphs" fill="#111" font-family="Liberation Sans, sans-serif" stroke="#111" stroke-width="0.14">alone</text></g>
<text x="291.20" y="158.60" font-size="8.20" textLength="58.1" lengthAdjust="spacingAndGlyphs" font-family="Liberation Sans, sans-serif"  stroke="#000" stroke-width="0.14">T cell cytokines</text>
<g transform="translate(179.6,239.4) rotate(-90)"><text x="0" y="0" font-size="8.8" textLength="26.0" lengthAdjust="spacingAndGlyphs" font-family="Liberation Sans, sans-serif" stroke="#000" stroke-width="0.14">ng/ml</text></g>
<line x1="198.2" y1="182.6" x2="198.2" y2="245.4" stroke="#000" stroke-width="1.2"/>
<line x1="197.6" y1="244.8" x2="290.0" y2="244.8" stroke="#000" stroke-width="1.2"/>
<line x1="195.2" y1="244.8" x2="198.2" y2="244.8" stroke="#000" stroke-width="1.0"/>
<text x="192.60" y="246.00" font-size="8.30" text-anchor="end" font-family="Liberation Sans, sans-serif"  stroke="#000" stroke-width="0.14">0</text>
<line x1="195.2" y1="213.7" x2="198.2" y2="213.7" stroke="#000" stroke-width="1.0"/>
<text x="192.60" y="216.30" font-size="8.30" text-anchor="end" font-family="Liberation Sans, sans-serif"  stroke="#000" stroke-width="0.14">20</text>
<line x1="195.2" y1="182.6" x2="198.2" y2="182.6" stroke="#000" stroke-width="1.0"/>
<text x="192.60" y="186.50" font-size="8.30" text-anchor="end" font-family="Liberation Sans, sans-serif"  stroke="#000" stroke-width="0.14">40</text>
<line x1="196.2" y1="229.2" x2="198.2" y2="229.2" stroke="#000" stroke-width="1.0"/>
<line x1="196.2" y1="198.2" x2="198.2" y2="198.2" stroke="#000" stroke-width="1.0"/>
<rect x="203.6" y="190.2" width="20.1" height="54.6" fill="#fff" stroke="#000" stroke-width="1.2"/>
<line x1="213.6" y1="244.8" x2="213.6" y2="247.2" stroke="#000" stroke-width="1.0"/>
<line x1="213.6" y1="190.2" x2="213.6" y2="189.4" stroke="#000" stroke-width="1.2"/>
<line x1="209.0" y1="189.4" x2="218.2" y2="189.4" stroke="#000" stroke-width="1.2"/>
<rect x="233.3" y="227.5" width="21.7" height="17.3" fill="#000" stroke="#000" stroke-width="1.2"/>
<line x1="244.2" y1="244.8" x2="244.2" y2="247.2" stroke="#000" stroke-width="1.0"/>
<line x1="244.2" y1="227.5" x2="244.2" y2="224.0" stroke="#000" stroke-width="1.2"/>
<line x1="239.6" y1="224.0" x2="248.8" y2="224.0" stroke="#000" stroke-width="1.2"/>
<rect x="264.9" y="203.4" width="21.7" height="41.4" fill="url(#hatch)" stroke="#000" stroke-width="1.2"/>
<line x1="275.8" y1="244.8" x2="275.8" y2="247.2" stroke="#000" stroke-width="1.0"/>
<path d="M211.0,186.0 L211.0,180.7 L237.0,180.7 L237.0,209.0" fill="none" stroke="#000" stroke-width="1.0"/>
<circle cx="229.60" cy="175.00" r="1.25" fill="#000"/>
<text x="199.70" y="173.10" font-size="8.60" font-family="Liberation Sans, sans-serif"  stroke="#000" stroke-width="0.14">IFN γ</text>
<g transform="translate(196.50,277.30) rotate(-45)"><text x="0" y="0" font-size="7.20" fill="#111" font-family="Liberation Sans, sans-serif" stroke="#111" stroke-width="0.14">CD11c<tspan font-size="5.04" dy="-2.4">high</tspan></text></g>
<g transform="translate(230.30,277.30) rotate(-45)"><text x="0" y="0" font-size="7.20" fill="#111" font-family="Liberation Sans, sans-serif" stroke="#111" stroke-width="0.14">CD11b<tspan font-size="5.04" dy="-2.4">high</tspan></text></g>
<g transform="translate(253.60,274.60) rotate(-45)"><text x="0" y="0" font-size="7.20" fill="#111" font-family="Liberation Sans, sans-serif" stroke="#111" stroke-width="0.14">CD11b<tspan font-size="5.04" dy="-2.4">high</tspan></text></g>
<g transform="translate(278.90,259.10) rotate(-45)"><text x="0" y="0" font-size="7.20" text-anchor="end" textLength="25.8" lengthAdjust="spacingAndGlyphs" fill="#111" font-family="Liberation Sans, sans-serif" stroke="#111" stroke-width="0.14">+peptide</text></g>
<line x1="313.6" y1="182.5" x2="313.6" y2="245.4" stroke="#000" stroke-width="1.2"/>
<line x1="313.0" y1="244.8" x2="404.0" y2="244.8" stroke="#000" stroke-width="1.2"/>
<line x1="310.6" y1="244.8" x2="313.6" y2="244.8" stroke="#000" stroke-width="1.0"/>
<text x="310.80" y="247.70" font-size="8.40" text-anchor="end" font-family="Liberation Sans, sans-serif"  stroke="#000" stroke-width="0.14">0</text>
<line x1="310.6" y1="213.7" x2="313.6" y2="213.7" stroke="#000" stroke-width="1.0"/>
<text x="310.80" y="218.00" font-size="8.40" text-anchor="end" font-family="Liberation Sans, sans-serif"  stroke="#000" stroke-width="0.14">0.5</text>
<line x1="310.6" y1="182.5" x2="313.6" y2="182.5" stroke="#000" stroke-width="1.0"/>
<text x="308.60" y="186.80" font-size="8.40" text-anchor="end" font-family="Liberation Sans, sans-serif"  stroke="#000" stroke-width="0.14">1</text>
<rect x="319.0" y="213.3" width="20.4" height="31.5" fill="#fff" stroke="#000" stroke-width="1.2"/>
<line x1="329.2" y1="244.8" x2="329.2" y2="247.2" stroke="#000" stroke-width="1.0"/>
<rect x="348.7" y="236.4" width="22.1" height="8.4" fill="#000" stroke="#000" stroke-width="1.2"/>
<line x1="359.8" y1="244.8" x2="359.8" y2="247.2" stroke="#000" stroke-width="1.0"/>
<rect x="380.7" y="213.3" width="20.8" height="31.5" fill="url(#hatch)" stroke="#000" stroke-width="1.2"/>
<line x1="391.1" y1="244.8" x2="391.1" y2="247.2" stroke="#000" stroke-width="1.0"/>
<line x1="391.1" y1="213.3" x2="391.1" y2="209.3" stroke="#000" stroke-width="1.2"/>
<line x1="386.5" y1="209.3" x2="395.7" y2="209.3" stroke="#000" stroke-width="1.2"/>
<path d="M328.9,185.2 L328.9,179.0 L355.3,179.0 L355.3,207.7" fill="none" stroke="#000" stroke-width="1.0"/>
<circle cx="347.30" cy="173.50" r="1.25" fill="#000"/>
<text x="321.30" y="173.60" font-size="8.60" textLength="13.6" lengthAdjust="spacingAndGlyphs" font-family="Liberation Sans, sans-serif"  stroke="#000" stroke-width="0.14">IL-4</text>
<g transform="translate(306.50,276.20) rotate(-45)"><text x="0" y="0" font-size="7.20" fill="#111" font-family="Liberation Sans, sans-serif" stroke="#111" stroke-width="0.14">CD11c<tspan font-size="5.04" dy="-2.4">high</tspan></text></g>
<g transform="translate(338.20,276.20) rotate(-45)"><text x="0" y="0" font-size="7.20" fill="#111" font-family="Liberation Sans, sans-serif" stroke="#111" stroke-width="0.14">CD11b<tspan font-size="5.04" dy="-2.4">high</tspan></text></g>
<g transform="translate(370.00,272.00) rotate(-45)"><text x="0" y="0" font-size="7.20" fill="#111" font-family="Liberation Sans, sans-serif" stroke="#111" stroke-width="0.14">CD11b<tspan font-size="5.04" dy="-2.4">high</tspan></text></g>
<g transform="translate(395.30,257.40) rotate(-45)"><text x="0" y="0" font-size="7.20" text-anchor="end" textLength="25.8" lengthAdjust="spacingAndGlyphs" fill="#111" font-family="Liberation Sans, sans-serif" stroke="#111" stroke-width="0.14">+peptide</text></g>
<line x1="426.0" y1="182.8" x2="426.0" y2="245.4" stroke="#000" stroke-width="1.2"/>
<line x1="425.4" y1="244.8" x2="517.0" y2="244.8" stroke="#000" stroke-width="1.2"/>
<line x1="423.0" y1="244.8" x2="426.0" y2="244.8" stroke="#000" stroke-width="1.0"/>
<text x="420.60" y="247.70" font-size="8.40" text-anchor="end" font-family="Liberation Sans, sans-serif"  stroke="#000" stroke-width="0.14">0</text>
<line x1="423.0" y1="224.1" x2="426.0" y2="224.1" stroke="#000" stroke-width="1.0"/>
<text x="420.60" y="226.90" font-size="8.40" text-anchor="end" font-family="Liberation Sans, sans-serif"  stroke="#000" stroke-width="0.14">1</text>
<line x1="423.0" y1="203.5" x2="426.0" y2="203.5" stroke="#000" stroke-width="1.0"/>
<text x="420.60" y="207.40" font-size="8.40" text-anchor="end" font-family="Liberation Sans, sans-serif"  stroke="#000" stroke-width="0.14">2</text>
<line x1="423.0" y1="182.8" x2="426.0" y2="182.8" stroke="#000" stroke-width="1.0"/>
<text x="420.60" y="188.20" font-size="8.40" text-anchor="end" font-family="Liberation Sans, sans-serif"  stroke="#000" stroke-width="0.14">3</text>
<rect x="430.6" y="193.8" width="21.4" height="51.0" fill="#fff" stroke="#000" stroke-width="1.2"/>
<line x1="441.3" y1="244.8" x2="441.3" y2="247.2" stroke="#000" stroke-width="1.0"/>
<line x1="441.3" y1="193.8" x2="441.3" y2="189.5" stroke="#000" stroke-width="1.2"/>
<line x1="436.7" y1="189.5" x2="445.9" y2="189.5" stroke="#000" stroke-width="1.2"/>
<rect x="462.0" y="229.8" width="21.0" height="15.0" fill="#000" stroke="#000" stroke-width="1.2"/>
<line x1="472.5" y1="244.8" x2="472.5" y2="247.2" stroke="#000" stroke-width="1.0"/>
<line x1="472.5" y1="229.8" x2="472.5" y2="225.8" stroke="#000" stroke-width="1.2"/>
<line x1="467.9" y1="225.8" x2="477.1" y2="225.8" stroke="#000" stroke-width="1.2"/>
<rect x="493.3" y="220.2" width="21.5" height="24.6" fill="url(#hatch)" stroke="#000" stroke-width="1.2"/>
<line x1="504.0" y1="244.8" x2="504.0" y2="247.2" stroke="#000" stroke-width="1.0"/>
<line x1="504.0" y1="220.2" x2="504.0" y2="215.2" stroke="#000" stroke-width="1.2"/>
<line x1="499.4" y1="215.2" x2="508.6" y2="215.2" stroke="#000" stroke-width="1.2"/>
<path d="M441.8,184.5 L441.8,179.2 L467.6,179.2 L467.6,207.7" fill="none" stroke="#000" stroke-width="1.0"/>
<circle cx="464.40" cy="170.80" r="1.25" fill="#000"/>
<text x="435.40" y="173.10" font-size="8.60" textLength="19.0" lengthAdjust="spacingAndGlyphs" font-family="Liberation Sans, sans-serif"  stroke="#000" stroke-width="0.14">IL-10</text>
<g transform="translate(424.30,277.30) rotate(-45)"><text x="0" y="0" font-size="7.20" fill="#111" font-family="Liberation Sans, sans-serif" stroke="#111" stroke-width="0.14">CD11c<tspan font-size="5.04" dy="-2.4">high</tspan></text></g>
<g transform="translate(459.60,277.30) rotate(-45)"><text x="0" y="0" font-size="7.20" fill="#111" font-family="Liberation Sans, sans-serif" stroke="#111" stroke-width="0.14">CD11b<tspan font-size="5.04" dy="-2.4">high</tspan></text></g>
<g transform="translate(483.90,273.10) rotate(-45)"><text x="0" y="0" font-size="7.20" fill="#111" font-family="Liberation Sans, sans-serif" stroke="#111" stroke-width="0.14">CD11b<tspan font-size="5.04" dy="-2.4">high</tspan></text></g>
<g transform="translate(509.80,259.50) rotate(-45)"><text x="0" y="0" font-size="7.20" text-anchor="end" textLength="25.8" lengthAdjust="spacingAndGlyphs" fill="#111" font-family="Liberation Sans, sans-serif" stroke="#111" stroke-width="0.14">+peptide</text></g>
<text x="0.50" y="310.50" font-size="15.00" font-weight="bold" font-family="Liberation Sans, sans-serif"  stroke="#000" stroke-width="0.14">C</text>
<text x="75.60" y="311.60" font-size="8.20" textLength="10.2" lengthAdjust="spacingAndGlyphs" font-family="Liberation Sans, sans-serif"  stroke="#000" stroke-width="0.14">B5</text>
<line x1="39.3" y1="324.4" x2="39.3" y2="399.0" stroke="#000" stroke-width="1.2"/>
<line x1="38.7" y1="398.4" x2="152.9" y2="398.4" stroke="#000" stroke-width="1.2"/>
<line x1="36.3" y1="398.4" x2="39.3" y2="398.4" stroke="#000" stroke-width="1.0"/>
<text x="34.70" y="402.30" font-size="8.70" text-anchor="end" font-family="Liberation Sans, sans-serif"  stroke="#000" stroke-width="0.14">0</text>
<line x1="36.3" y1="379.9" x2="39.3" y2="379.9" stroke="#000" stroke-width="1.0"/>
<text x="34.70" y="383.40" font-size="8.70" text-anchor="end" font-family="Liberation Sans, sans-serif"  stroke="#000" stroke-width="0.14">5</text>
<line x1="36.3" y1="361.4" x2="39.3" y2="361.4" stroke="#000" stroke-width="1.0"/>
<text x="34.70" y="363.50" font-size="8.70" text-anchor="end" font-family="Liberation Sans, sans-serif"  stroke="#000" stroke-width="0.14">10</text>
<line x1="36.3" y1="342.9" x2="39.3" y2="342.9" stroke="#000" stroke-width="1.0"/>
<text x="34.70" y="345.70" font-size="8.70" text-anchor="end" font-family="Liberation Sans, sans-serif"  stroke="#000" stroke-width="0.14">15</text>
<line x1="36.3" y1="324.4" x2="39.3" y2="324.4" stroke="#000" stroke-width="1.0"/>
<text x="34.70" y="326.30" font-size="8.70" text-anchor="end" font-family="Liberation Sans, sans-serif"  stroke="#000" stroke-width="0.14">20</text>
<line x1="42.8" y1="398.4" x2="42.8" y2="401.2" stroke="#000" stroke-width="1.0"/>
<text x="44.5" y="410.4" font-size="8.4" text-anchor="middle" font-family="Liberation Sans, sans-serif" stroke="#000" stroke-width="0.14">10<tspan font-size="5.6" dy="-3.4">2</tspan></text>
<line x1="79.1" y1="398.4" x2="79.1" y2="401.2" stroke="#000" stroke-width="1.0"/>
<text x="78.6" y="410.4" font-size="8.4" text-anchor="middle" font-family="Liberation Sans, sans-serif" stroke="#000" stroke-width="0.14">10<tspan font-size="5.6" dy="-3.4">3</tspan></text>
<line x1="115.4" y1="398.4" x2="115.4" y2="401.2" stroke="#000" stroke-width="1.0"/>
<text x="114.2" y="410.4" font-size="8.4" text-anchor="middle" font-family="Liberation Sans, sans-serif" stroke="#000" stroke-width="0.14">10<tspan font-size="5.6" dy="-3.4">4</tspan></text>
<text x="56.50" y="420.60" font-size="7.40" textLength="80.8" lengthAdjust="spacingAndGlyphs" font-family="Liberation Sans, sans-serif"  stroke="#000" stroke-width="0.14">cell numbers per well</text>
<g transform="translate(13.0,399.0) rotate(-90) scale(1.107,1)"><text x="0" y="0" font-size="6.90" font-family="Liberation Sans, sans-serif" stroke="#000" stroke-width="0.14"><tspan font-size="4.49" dy="-2.6">3</tspan><tspan dy="2.6">H Thymidine (cpm x10</tspan><tspan font-size="4.49" dy="-2.6">-3</tspan><tspan dy="2.6">)</tspan></text></g>
<path d="M65.8,397.3 L76.8,396.1 L87.9,396.6 L99.4,396.1 L110.7,394.8 L122.2,394.1 L132.8,396.0 L144.8,396.0" fill="none" stroke="#000" stroke-width="1.2"/>
<path d="M65.8,397.3 L76.8,396.6 L87.9,396.2 L99.4,392.9 L110.7,386.7 L122.2,384.3 L133.3,376.0 L144.8,367.9" fill="none" stroke="#000" stroke-width="1.2"/>
<path d="M54.4,397.6 L65.3,392.3 L76.9,388.8 L87.9,379.6 L99.4,367.9 L110.7,353.9 L122.2,343.3 L132.8,345.3 L144.8,354.8" fill="none" stroke="#000" stroke-width="1.2"/>
<rect x="63.6" y="395.1" width="4.4" height="4.4" fill="#000"/>
<rect x="74.6" y="393.9" width="4.4" height="4.4" fill="#000"/>
<rect x="85.7" y="394.4" width="4.4" height="4.4" fill="#000"/>
<rect x="97.2" y="393.9" width="4.4" height="4.4" fill="#000"/>
<rect x="108.5" y="392.6" width="4.4" height="4.4" fill="#000"/>
<rect x="120.0" y="391.9" width="4.4" height="4.4" fill="#000"/>
<rect x="130.6" y="393.8" width="4.4" height="4.4" fill="#000"/>
<rect x="142.6" y="393.8" width="4.4" height="4.4" fill="#000"/>
<path d="M63.2,394.9 L68.4,394.9 L65.8,399.7 Z" fill="#000"/>
<path d="M74.2,394.2 L79.4,394.2 L76.8,399.0 Z" fill="#000"/>
<path d="M85.3,393.8 L90.5,393.8 L87.9,398.6 Z" fill="#000"/>
<path d="M96.8,390.5 L102.0,390.5 L99.4,395.3 Z" fill="#000"/>
<path d="M108.1,384.3 L113.3,384.3 L110.7,389.1 Z" fill="#000"/>
<path d="M119.6,381.9 L124.8,381.9 L122.2,386.7 Z" fill="#000"/>
<path d="M130.7,373.6 L135.9,373.6 L133.3,378.4 Z" fill="#000"/>
<path d="M142.2,365.5 L147.4,365.5 L144.8,370.3 Z" fill="#000"/>
<path d="M122.2,331.5 L122.2,354.4 M119.4,331.5 L125.0,331.5 M119.4,354.4 L125.0,354.4" stroke="#000" stroke-width="1.2" fill="none"/>
<path d="M132.8,341.6 L132.8,349.0 M130.0,341.6 L135.6,341.6 M130.0,349.0 L135.6,349.0" stroke="#000" stroke-width="1.2" fill="none"/>
<path d="M144.8,348.0 L144.8,360.5 M142.0,348.0 L147.6,348.0 M142.0,360.5 L147.6,360.5" stroke="#000" stroke-width="1.2" fill="none"/>
<circle cx="54.4" cy="397.6" r="2.85" fill="#fff" stroke="#000" stroke-width="1.25"/>
<circle cx="65.3" cy="392.3" r="2.85" fill="#fff" stroke="#000" stroke-width="1.25"/>
<circle cx="76.9" cy="388.8" r="2.85" fill="#fff" stroke="#000" stroke-width="1.25"/>
<circle cx="87.9" cy="379.6" r="2.85" fill="#fff" stroke="#000" stroke-width="1.25"/>
<circle cx="99.4" cy="367.9" r="2.85" fill="#fff" stroke="#000" stroke-width="1.25"/>
<circle cx="110.7" cy="353.9" r="2.85" fill="#fff" stroke="#000" stroke-width="1.25"/>
<circle cx="122.2" cy="343.3" r="2.85" fill="#fff" stroke="#000" stroke-width="1.25"/>
<circle cx="132.8" cy="345.3" r="2.85" fill="#fff" stroke="#000" stroke-width="1.25"/>
<circle cx="144.8" cy="354.8" r="2.85" fill="#fff" stroke="#000" stroke-width="1.25"/>
<rect x="154.9" y="317.7" width="4.6" height="4.5" fill="#000"/>
<text x="163.6" y="322.4" font-size="7.0" font-family="Liberation Sans, sans-serif" stroke="#000" stroke-width="0.14">CD11b<tspan font-size="5.0" dy="-2.6">high</tspan></text>
<path d="M154.7,326.4 L159.7,326.4 L157.2,331.6 Z" fill="#000"/>
<text x="162.8" y="331.3" font-size="7.0" font-family="Liberation Sans, sans-serif" stroke="#000" stroke-width="0.14">CD11b<tspan font-size="5.0" dy="-2.6">high</tspan><tspan dy="2.6">-peptide</tspan></text>
<circle cx="157.2" cy="336.5" r="1.9" fill="#fff" stroke="#000" stroke-width="1.3"/>
<text x="163.6" y="339.4" font-size="7.0" font-family="Liberation Sans, sans-serif" stroke="#000" stroke-width="0.14">CD11c<tspan font-size="5.0" dy="-2.6">high</tspan></text>
</g>
</svg>
</body></html>
